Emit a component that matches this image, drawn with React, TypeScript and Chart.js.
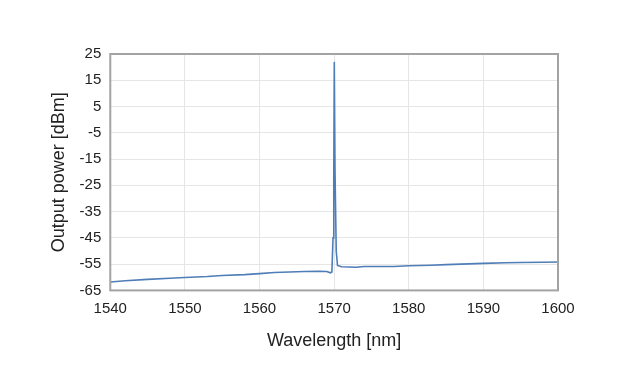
import React, { useEffect, useRef } from "react";
import { Chart, registerables } from "chart.js";

Chart.register(...registerables);

const wavelengths = [
  1540, 1542, 1545, 1548, 1550, 1553, 1555, 1558, 1560, 1562, 1564, 1566, 1568, 1569, 1569.5, 1569.7,
  1569.85, 1569.95, 1570.02, 1570.12, 1570.28, 1570.45, 1571, 1572, 1573, 1574, 1576,
  1578, 1580, 1583, 1585, 1588, 1590, 1593, 1595, 1598, 1600,
];
const powers = [
  -61.8, -61.3, -60.8, -60.4, -60.1, -59.7, -59.3, -59.0, -58.6, -58.2, -58.0, -57.8, -57.7, -57.8, -58.3, -58.0,
  -45, -22, 22, -20, -50, -55.5, -56.0, -56.1, -56.2, -55.9, -55.9,
  -55.9, -55.6, -55.4, -55.2, -54.9, -54.7, -54.5, -54.4, -54.3, -54.2,
];
const xTicks = [1540, 1550, 1560, 1570, 1580, 1590, 1600];
const yTicks = [-65, -55, -45, -35, -25, -15, -5, 5, 15, 25];

export default function App() {
  const ref = useRef<HTMLCanvasElement>(null);
  useEffect(() => {
    document.body.style.margin = "0";
    const frame = {
      id: "frame",
      afterDraw(chart: any) {
        const { ctx, chartArea } = chart;
        ctx.save();
        ctx.strokeStyle = "#a3a3a3";
        ctx.lineWidth = 2;
        ctx.strokeRect(chartArea.left, chartArea.top, chartArea.right - chartArea.left, chartArea.bottom - chartArea.top);
        ctx.restore();
      },
    };
    const chart = new Chart(ref.current!, {
      type: "scatter",
      data: {
        datasets: [
          {
            data: wavelengths.map((x, i) => ({ x, y: powers[i] })),
            showLine: true,
            borderColor: "#4f7db7",
            borderWidth: 1.6,
            pointRadius: 0,
            tension: 0,
          },
        ],
      },
      plugins: [frame],
      options: {
        animation: false,
        responsive: false,
        layout: { padding: { left: 44, right: 63, top: 54, bottom: 28 } },
        plugins: { legend: { display: false }, tooltip: { enabled: false } },
        scales: {
          x: {
            type: "linear",
            min: 1540,
            max: 1600,
            afterBuildTicks: (s: any) => {
              s.ticks = xTicks.map((v) => ({ value: v }));
            },
            grid: { color: "#e6e6e6", drawTicks: false },
            border: { display: false },
            ticks: {
              color: "#222",
              font: { family: "Liberation Sans, Arial", size: 15 },
              padding: 9,
              callback: (v: any) => String(v),
            },
            title: {
              display: true,
              text: "Wavelength [nm]",
              color: "#222",
              font: { family: "Liberation Sans, Arial", size: 18 },
              padding: { top: 4 },
            },
          },
          y: {
            min: -65,
            max: 25,
            afterBuildTicks: (s: any) => {
              s.ticks = yTicks.map((v) => ({ value: v }));
            },
            grid: { color: "#e6e6e6", drawTicks: false },
            border: { display: false },
            ticks: {
              color: "#222",
              font: { family: "Liberation Sans, Arial", size: 15 },
              padding: 9,
              callback: (v: any) => String(v),
            },
            title: {
              display: true,
              text: "Output power [dBm]",
              color: "#222",
              font: { family: "Liberation Sans, Arial", size: 18 },
              padding: { bottom: 1 },
            },
          },
        },
      },
    });
    return () => chart.destroy();
  }, []);
  return <canvas ref={ref} width={621} height={384} style={{ display: "block", background: "#fff" }} />;
}
